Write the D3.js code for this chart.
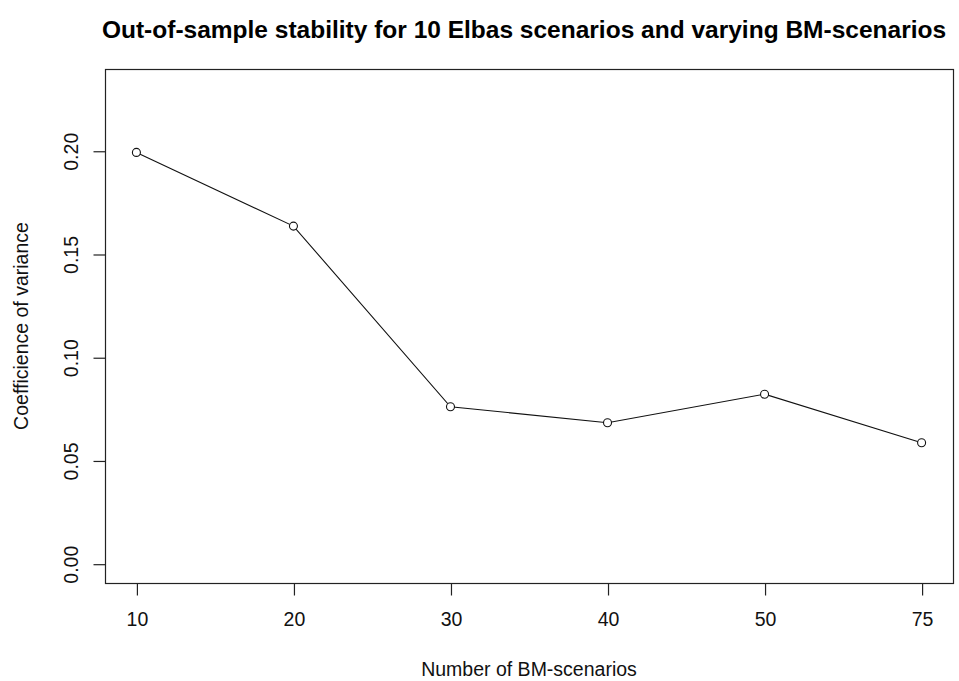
<!DOCTYPE html>
<html>
<head>
<meta charset="utf-8">
<script src="https://cdn.jsdelivr.net/npm/d3@7"></script>
<style>
  html, body { margin: 0; padding: 0; background: #fff; }
  svg { display: block; font-family: "Liberation Sans", Arial, sans-serif; }
</style>
</head>
<body>
<svg id="chart" width="959" height="681"></svg>
<script>
// Number of BM-scenarios (categorical x positions)
const categories = ["10", "20", "30", "40", "50", "75"];
// Coefficient of variance of out-of-sample results
const cvValues = [0.1992, 0.1635, 0.0760, 0.0683, 0.0821, 0.0586];
// Y-axis tick values
const yTicks = [0.00, 0.05, 0.10, 0.15, 0.20];

const title = "Out-of-sample stability for 10 Elbas scenarios and varying BM-scenarios";
const xTitle = "Number of BM-scenarios";
const yTitle = "Coefficience of variance";

const W = 959, H = 681;
const box = { left: 105, right: 953, top: 69, bottom: 583 };

const svg = d3.select("#chart");

// x: index-based positions with 4% padding on each side
const x = d3.scaleLinear()
  .domain([-0.2, categories.length - 1 + 0.2])
  .range([box.left, box.right]);

const y = d3.scaleLinear()
  .domain([-0.00935, 0.2396])
  .range([box.bottom, box.top]);

// plot frame
svg.append("rect")
  .attr("x", box.left + 0.5).attr("y", box.top + 0.5)
  .attr("width", box.right - box.left).attr("height", box.bottom - box.top)
  .attr("fill", "none").attr("stroke", "#222").attr("stroke-width", 1.2);

// x axis (ticks outward, labels below)
const xAxis = d3.axisBottom(x)
  .tickValues(d3.range(categories.length))
  .tickFormat(i => categories[i])
  .tickSizeInner(12).tickSizeOuter(0).tickPadding(17);

const gx = svg.append("g")
  .attr("transform", `translate(0.5,${box.bottom + 0.5})`)
  .call(xAxis);
gx.select(".domain").remove();
gx.selectAll(".tick line").attr("stroke", "#222").attr("stroke-width", 1.2);
gx.selectAll(".tick text")
  .attr("font-size", 19.5).attr("fill", "#111")
  .attr("font-family", "Liberation Sans, Arial, sans-serif");

// y axis (ticks outward, labels rotated)
const yAxis = d3.axisLeft(y)
  .tickValues(yTicks)
  .tickFormat(d3.format(".2f"))
  .tickSizeInner(12).tickSizeOuter(0);

const gy = svg.append("g")
  .attr("transform", `translate(${box.left + 0.5},0.5)`)
  .call(yAxis);
gy.select(".domain").remove();
gy.selectAll(".tick line").attr("stroke", "#222").attr("stroke-width", 1.2);
gy.selectAll(".tick text")
  .attr("font-size", 19.5).attr("fill", "#111")
  .attr("font-family", "Liberation Sans, Arial, sans-serif")
  .attr("x", null).attr("dy", null)
  .attr("text-anchor", "middle")
  .attr("transform", "translate(-28,0) rotate(-90)");

// data line
const line = d3.line()
  .x((d, i) => x(i))
  .y(d => y(d));

svg.append("path")
  .datum(cvValues)
  .attr("d", line)
  .attr("fill", "none")
  .attr("stroke", "#111")
  .attr("stroke-width", 1.1);

// open circle markers
svg.selectAll("circle.pt")
  .data(cvValues)
  .join("circle")
  .attr("class", "pt")
  .attr("cx", (d, i) => x(i))
  .attr("cy", d => y(d))
  .attr("r", 4)
  .attr("fill", "#fff")
  .attr("stroke", "#111")
  .attr("stroke-width", 1.1);

// title
svg.append("text")
  .attr("x", 524)
  .attr("y", 38)
  .attr("text-anchor", "middle")
  .attr("font-size", 24.5)
  .attr("font-weight", "bold")
  .attr("fill", "#000")
  .text(title);

// axis titles
svg.append("text")
  .attr("x", (box.left + box.right) / 2)
  .attr("y", 676)
  .attr("text-anchor", "middle")
  .attr("font-size", 19.5)
  .attr("fill", "#111")
  .text(xTitle);

svg.append("text")
  .attr("transform", `translate(28,${(box.top + box.bottom) / 2}) rotate(-90)`)
  .attr("text-anchor", "middle")
  .attr("font-size", 19.5)
  .attr("fill", "#111")
  .text(yTitle);
</script>
</body>
</html>
